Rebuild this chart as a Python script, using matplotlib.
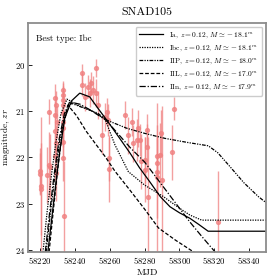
import matplotlib
matplotlib.use("Agg")
import matplotlib.pyplot as plt

plt.rcParams['font.family'] = 'serif'
plt.rcParams['font.serif'] = ['cmr10', 'DejaVu Serif']
plt.rcParams['mathtext.fontset'] = 'cm'
plt.rcParams['axes.formatter.use_mathtext'] = True

# observations (zr band)
obs_mjd = [58220.2, 58220.2, 58220.4, 58220.4, 58224.2, 58225.0, 58225.0, 58225.6,
           58228.4, 58228.8, 58228.8, 58228.8, 58229.4, 58229.4, 58229.4, 58230.0,
           58233.2, 58233.2, 58233.2, 58233.2, 58233.2, 58233.2, 58233.2, 58233.2,
           58233.2, 58233.6, 58244.1, 58244.1, 58245.7, 58247.6, 58248.5, 58249.4,
           58250.4, 58252.3, 58252.3, 58253.5, 58255.4, 58257.3, 58258.3, 58259.2,
           58259.8, 58259.8, 58268.8, 58270.7, 58272.6, 58273.6, 58275.5, 58276.4,
           58277.4, 58277.8, 58280.3, 58280.3, 58281.3, 58281.3, 58282.2, 58287.0,
           58287.0, 58287.3, 58287.3, 58288.9, 58289.3, 58290.2, 58295.9, 58296.9,
           58322.4]
obs_mag = [22.29, 22.36, 22.63, 22.69, 22.38, 21.01, 22.16, 22.20,
           21.98, 20.72, 21.08, 21.44, 20.87, 21.70, 22.34, 21.23,
           20.54, 20.65, 20.76, 20.87, 21.05, 21.23, 21.37, 21.66,
           22.02, 23.28, 20.18, 20.43, 20.69, 20.47, 20.61, 20.40,
           20.54, 20.07, 20.61, 20.87, 21.52, 21.12, 21.01, 21.19,
           22.02, 22.26, 21.08, 21.52, 21.23, 21.70, 21.62, 21.37,
           21.62, 22.09, 22.06, 22.27, 21.77, 21.41, 22.85, 22.42,
           21.98, 22.13, 22.31, 21.95, 21.48, 22.49, 21.89, 20.95,
           23.40]
obs_err = [0.5, 0.45, 1.5, 1.0, 0.6, 0.27, 0.7, 0.7,
           0.5, 0.3, 0.3, 0.4, 0.3, 0.4, 0.6, 0.35,
           0.2, 0.25, 0.3, 0.3, 0.35, 0.3, 0.4, 0.4,
           0.5, 1.2, 0.2, 0.25, 0.3, 0.25, 0.3, 0.25,
           0.3, 0.2, 0.3, 0.3, 0.4, 0.3, 0.3, 0.35,
           0.5, 0.7, 0.3, 0.4, 0.3, 0.4, 0.45, 0.4,
           0.35, 0.6, 0.5, 0.7, 0.5, 0.35, 1.3, 1.6,
           0.4, 0.6, 1.0, 0.7, 0.5, 1.6, 0.6, 0.25,
           1.1]

# model light curves
ia_mjd = [58224.5, 58226.5, 58228.5, 58231.3, 58234.2, 58238, 58242.8, 58248.5, 58253.3,
          58259, 58265, 58271.7, 58277, 58283, 58289, 58294.6, 58300, 58306, 58311,
          58316.5, 58350]
ia_mag = [24.05, 23.4, 22.75, 21.88, 21.15, 20.78, 20.61, 20.69, 20.94,
          21.23, 21.55, 21.91, 22.22, 22.53, 22.85, 23.07, 23.2, 23.32, 23.45,
          23.6, 23.6]

ibc_mjd = [58221.7, 58224, 58226.5, 58229, 58232, 58235.5, 58241.8, 58248.5, 58253.3,
           58257.3, 58263, 58270.7, 58280, 58290.8, 58300, 58306, 58312.8, 58350]
ibc_mag = [24.05, 23.2, 22.4, 21.7, 21.05, 20.74, 20.87, 20.97, 21.08,
           21.17, 21.73, 22.31, 22.6, 22.85, 23.1, 23.25, 23.36, 23.36]

iip_mjd = [58223.5, 58226, 58228.5, 58231.5, 58234.5, 58238, 58245, 58253, 58258,
           58269.8, 58280, 58291.8, 58305, 58316.6, 58322, 58329, 58337, 58345.3, 58349.7]
iip_mag = [24.05, 23.2, 22.4, 21.6, 21.05, 20.83, 20.93, 21.04, 21.19,
           21.37, 21.48, 21.59, 21.68, 21.75, 21.9, 22.2, 22.55, 22.85, 22.98]

iil_mjd = [58225.2, 58227.5, 58230, 58233, 58236, 58241, 58246.6, 58252.3, 58257.3,
           58263, 58272, 58280, 58288, 58298, 58309]
iil_mag = [24.05, 23.2, 22.3, 21.4, 20.87, 21.1, 21.44, 21.73, 21.98,
           22.3, 22.73, 23.12, 23.53, 23.8, 24.07]

iin_mjd = [58223, 58225.5, 58228, 58231, 58234, 58237, 58243, 58250, 58258,
           58265, 58272, 58280, 58290, 58300, 58306, 58313, 58320.5]
iin_mag = [24.05, 23.2, 22.4, 21.6, 21.05, 20.8, 20.85, 21.0, 21.2,
           21.5, 21.8, 22.1, 22.6, 23.1, 23.4, 23.72, 24.05]

labels = [r'Ia, $z = 0.12$, $M \simeq -18.1^m$',
          r'Ibc, $z = 0.12$, $M \simeq -18.1^m$',
          r'IIP, $z = 0.12$, $M \simeq -18.0^m$',
          r'IIL, $z = 0.12$, $M \simeq -17.0^m$',
          r'IIn, $z = 0.12$, $M \simeq -17.9^m$']

fig = plt.figure(figsize=(2.8, 2.8), dpi=100)
ax = fig.add_axes([0.1, 0.1, 0.85, 0.818])

ax.errorbar(obs_mjd, obs_mag, yerr=obs_err, fmt='o', ms=2.8, color='#f08080',
            elinewidth=1.0, alpha=0.75, zorder=1)

lw = 0.9
ax.plot(ia_mjd, ia_mag, color='k', lw=lw, ls='-', label=labels[0])
ax.plot(ibc_mjd, ibc_mag, color='k', lw=lw, ls=(0, (1, 1)), label=labels[1])
ax.plot(iip_mjd, iip_mag, color='k', lw=lw, ls=(0, (3, 1, 1, 1, 1, 1)), label=labels[2])
ax.plot(iil_mjd, iil_mag, color='k', lw=lw, ls=(0, (3, 1.5)), label=labels[3])
ax.plot(iin_mjd, iin_mag, color='k', lw=lw, ls=(0, (5, 1.5, 1, 1.5)), label=labels[4])

ax.set_xlim(58213.1, 58349.7)
ax.set_ylim(24.05, 19.09)
ax.set_xticks([58220, 58240, 58260, 58280, 58300, 58320, 58340])
ax.set_yticks([20, 21, 22, 23, 24])
ax.tick_params(direction='in', labelsize=6.3, length=3, width=0.6, pad=2)
for s in ax.spines.values():
    s.set_color('0.55')
    s.set_linewidth(1.3)

ax.set_title('SNAD105', fontsize=8.5)
ax.set_xlabel('MJD', fontsize=7, labelpad=2)
ax.set_ylabel('magnitude, $zr$', fontsize=6.6)
ax.yaxis.set_label_coords(-0.066, 0.5)
ax.text(0.035, 0.95, 'Best type: Ibc', transform=ax.transAxes, fontsize=6.5,
        va='top', ha='left')
ax.legend(loc='upper right', fontsize=5.4, handlelength=3.2, labelspacing=0.45,
          borderpad=0.5, framealpha=1.0, fancybox=True)

fig.savefig('out.png', dpi=100)
